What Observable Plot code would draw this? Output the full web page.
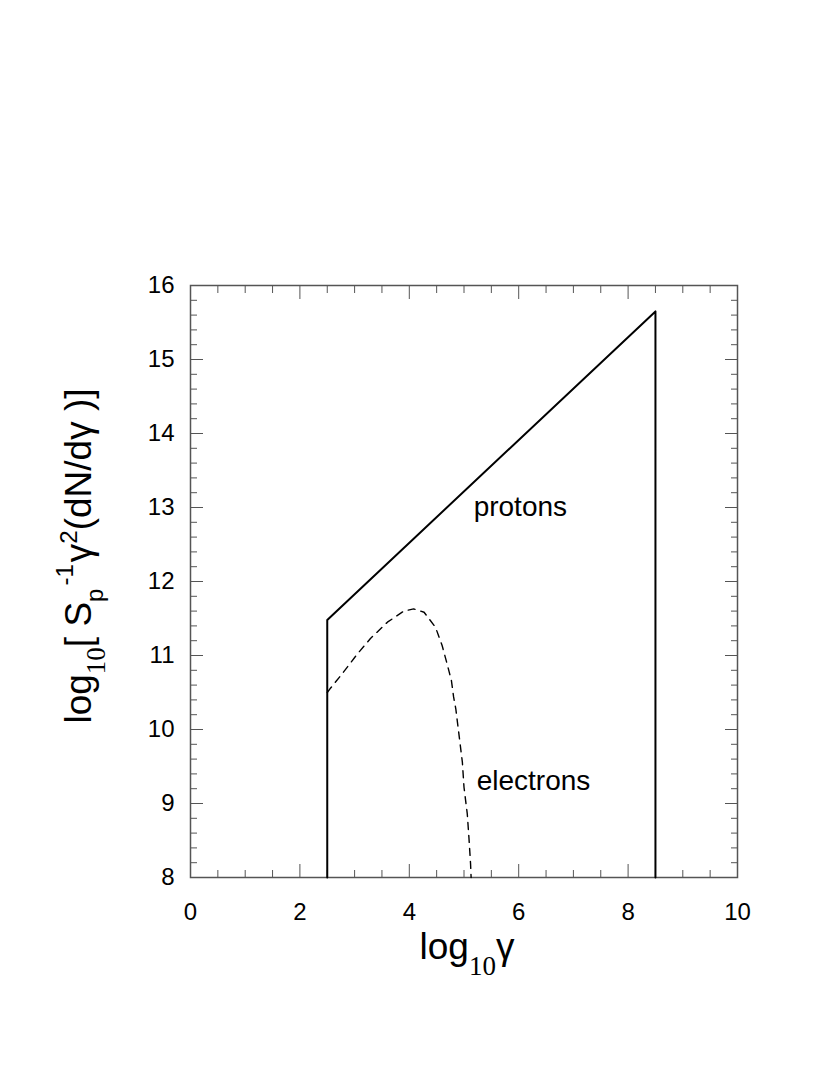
<!DOCTYPE html>
<html><head><meta charset="utf-8">
<script src="https://cdn.jsdelivr.net/npm/d3@7"></script>
<script src="https://cdn.jsdelivr.net/npm/@observablehq/plot@0.6"></script>
<style>body{margin:0;background:#fff}</style>
</head><body><div id="chart"></div>
<script>
// Protons: sharp-cutoff power law
const protonX = [2.5, 2.5, 8.5, 8.5];
const protonY = [8, 11.48, 15.65, 8];
// Electrons: cooled/cut-off spectrum (dashed)
const electronX = [2.5, 2.55, 2.77, 3.05, 3.29, 3.6, 3.9, 4.08, 4.27, 4.48, 4.6, 4.69, 4.77, 4.81, 4.85, 4.97, 5.0, 5.06, 5.09, 5.12, 5.13];
const electronY = [10.5, 10.55, 10.75, 11.02, 11.23, 11.45, 11.6, 11.63, 11.585, 11.38, 11.135, 10.89, 10.66, 10.44, 10.28, 9.56, 9.22, 8.86, 8.54, 8.185, 8.0];
const xMajor = [0, 2, 4, 6, 8, 10];
const xMinor = [0.5, 1, 1.5, 2.5, 3, 3.5, 4.5, 5, 5.5, 6.5, 7, 7.5, 8.5, 9, 9.5];
const yMajor = [8, 9, 10, 11, 12, 13, 14, 15, 16];
const yMinor = d3.range(8, 16.001, 0.2).map(v => +v.toFixed(1)).filter(v => !yMajor.includes(v));
const labels = [{x: 6.03, y: 13.0, text: "protons"}, {x: 6.27, y: 9.3, text: "electrons"}];

const protons = protonX.map((x, i) => ({x, y: protonY[i]}));
const electrons = electronX.map((x, i) => ({x, y: electronY[i]}));

const tickColor = "#555";
const font = "'Liberation Sans', Arial, Helvetica, sans-serif";
const serif = "'Liberation Serif', 'Times New Roman', serif";

const chart = Plot.plot({
  width: 814, height: 1066,
  marginLeft: 190, marginRight: 77, marginTop: 285, marginBottom: 189,
  style: {fontFamily: font, fontSize: "23px", background: "#fff", color: "#000"},
  x: {domain: [0, 10]},
  y: {domain: [8, 16]},
  marks: [
    // inward ticks
    Plot.axisX({anchor: "bottom", ticks: xMajor, tickSize: -13, text: null, label: null, stroke: tickColor}),
    Plot.axisX({anchor: "bottom", ticks: xMinor, tickSize: -7, text: null, label: null, stroke: tickColor}),
    Plot.axisX({anchor: "top", ticks: xMajor, tickSize: -13, text: null, label: null, stroke: tickColor}),
    Plot.axisX({anchor: "top", ticks: xMinor, tickSize: -7, text: null, label: null, stroke: tickColor}),
    Plot.axisY({anchor: "left", ticks: yMajor, tickSize: -13, text: null, label: null, stroke: tickColor}),
    Plot.axisY({anchor: "left", ticks: yMinor, tickSize: -7, text: null, label: null, stroke: tickColor}),
    Plot.axisY({anchor: "right", ticks: yMajor, tickSize: -13, text: null, label: null, stroke: tickColor}),
    Plot.axisY({anchor: "right", ticks: yMinor, tickSize: -7, text: null, label: null, stroke: tickColor}),
    // tick labels
    Plot.axisX({anchor: "bottom", ticks: xMajor, tickSize: 0, tickPadding: 25, label: null, fontSize: 24, tickFormat: d => String(d)}),
    Plot.axisY({anchor: "left", ticks: yMajor, tickSize: 0, tickPadding: 16, label: null, fontSize: 24, tickFormat: d => String(d)}),
    Plot.frame({stroke: tickColor, strokeWidth: 1.5}),
    Plot.line(electrons, {x: "x", y: "y", stroke: "#000", strokeWidth: 1.4, strokeDasharray: "7,6"}),
    Plot.line(protons, {x: "x", y: "y", stroke: "#000", strokeWidth: 2}),
    Plot.text(labels, {x: "x", y: "y", text: "text", fontSize: 28, fill: "#000"})
  ]
});

const svg = d3.select(chart);
// x-axis label
const xl = svg.append("text")
  .attr("x", 467).attr("y", 959)
  .attr("text-anchor", "middle")
  .attr("font-family", font).attr("font-size", 37).attr("fill", "#000");
xl.append("tspan").text("log");
xl.append("tspan").attr("dy", 16).attr("font-family", serif).attr("font-size", 27).text("10");
xl.append("tspan").attr("dy", -16).text("γ");

// y-axis label
const yl = svg.append("text")
  .attr("transform", "translate(91,556) rotate(-90)")
  .attr("text-anchor", "middle")
  .attr("font-family", font).attr("font-size", 37).attr("fill", "#000");
yl.append("tspan").text("log");
yl.append("tspan").attr("dy", 14).attr("font-family", serif).attr("font-size", 27).text("10");
yl.append("tspan").attr("dy", -14).text("[ S");
yl.append("tspan").attr("dy", 12).attr("font-size", 24).text("p");
yl.append("tspan").attr("dy", -30).attr("dx", 3).attr("font-size", 24).text("-1");
yl.append("tspan").attr("dy", 18).attr("dx", 2).text("γ");
yl.append("tspan").attr("dy", -14).attr("font-size", 24).text("2");
yl.append("tspan").attr("dy", 14).text("(dN/dγ )]");

document.getElementById("chart").appendChild(chart);
</script>
</body></html>
